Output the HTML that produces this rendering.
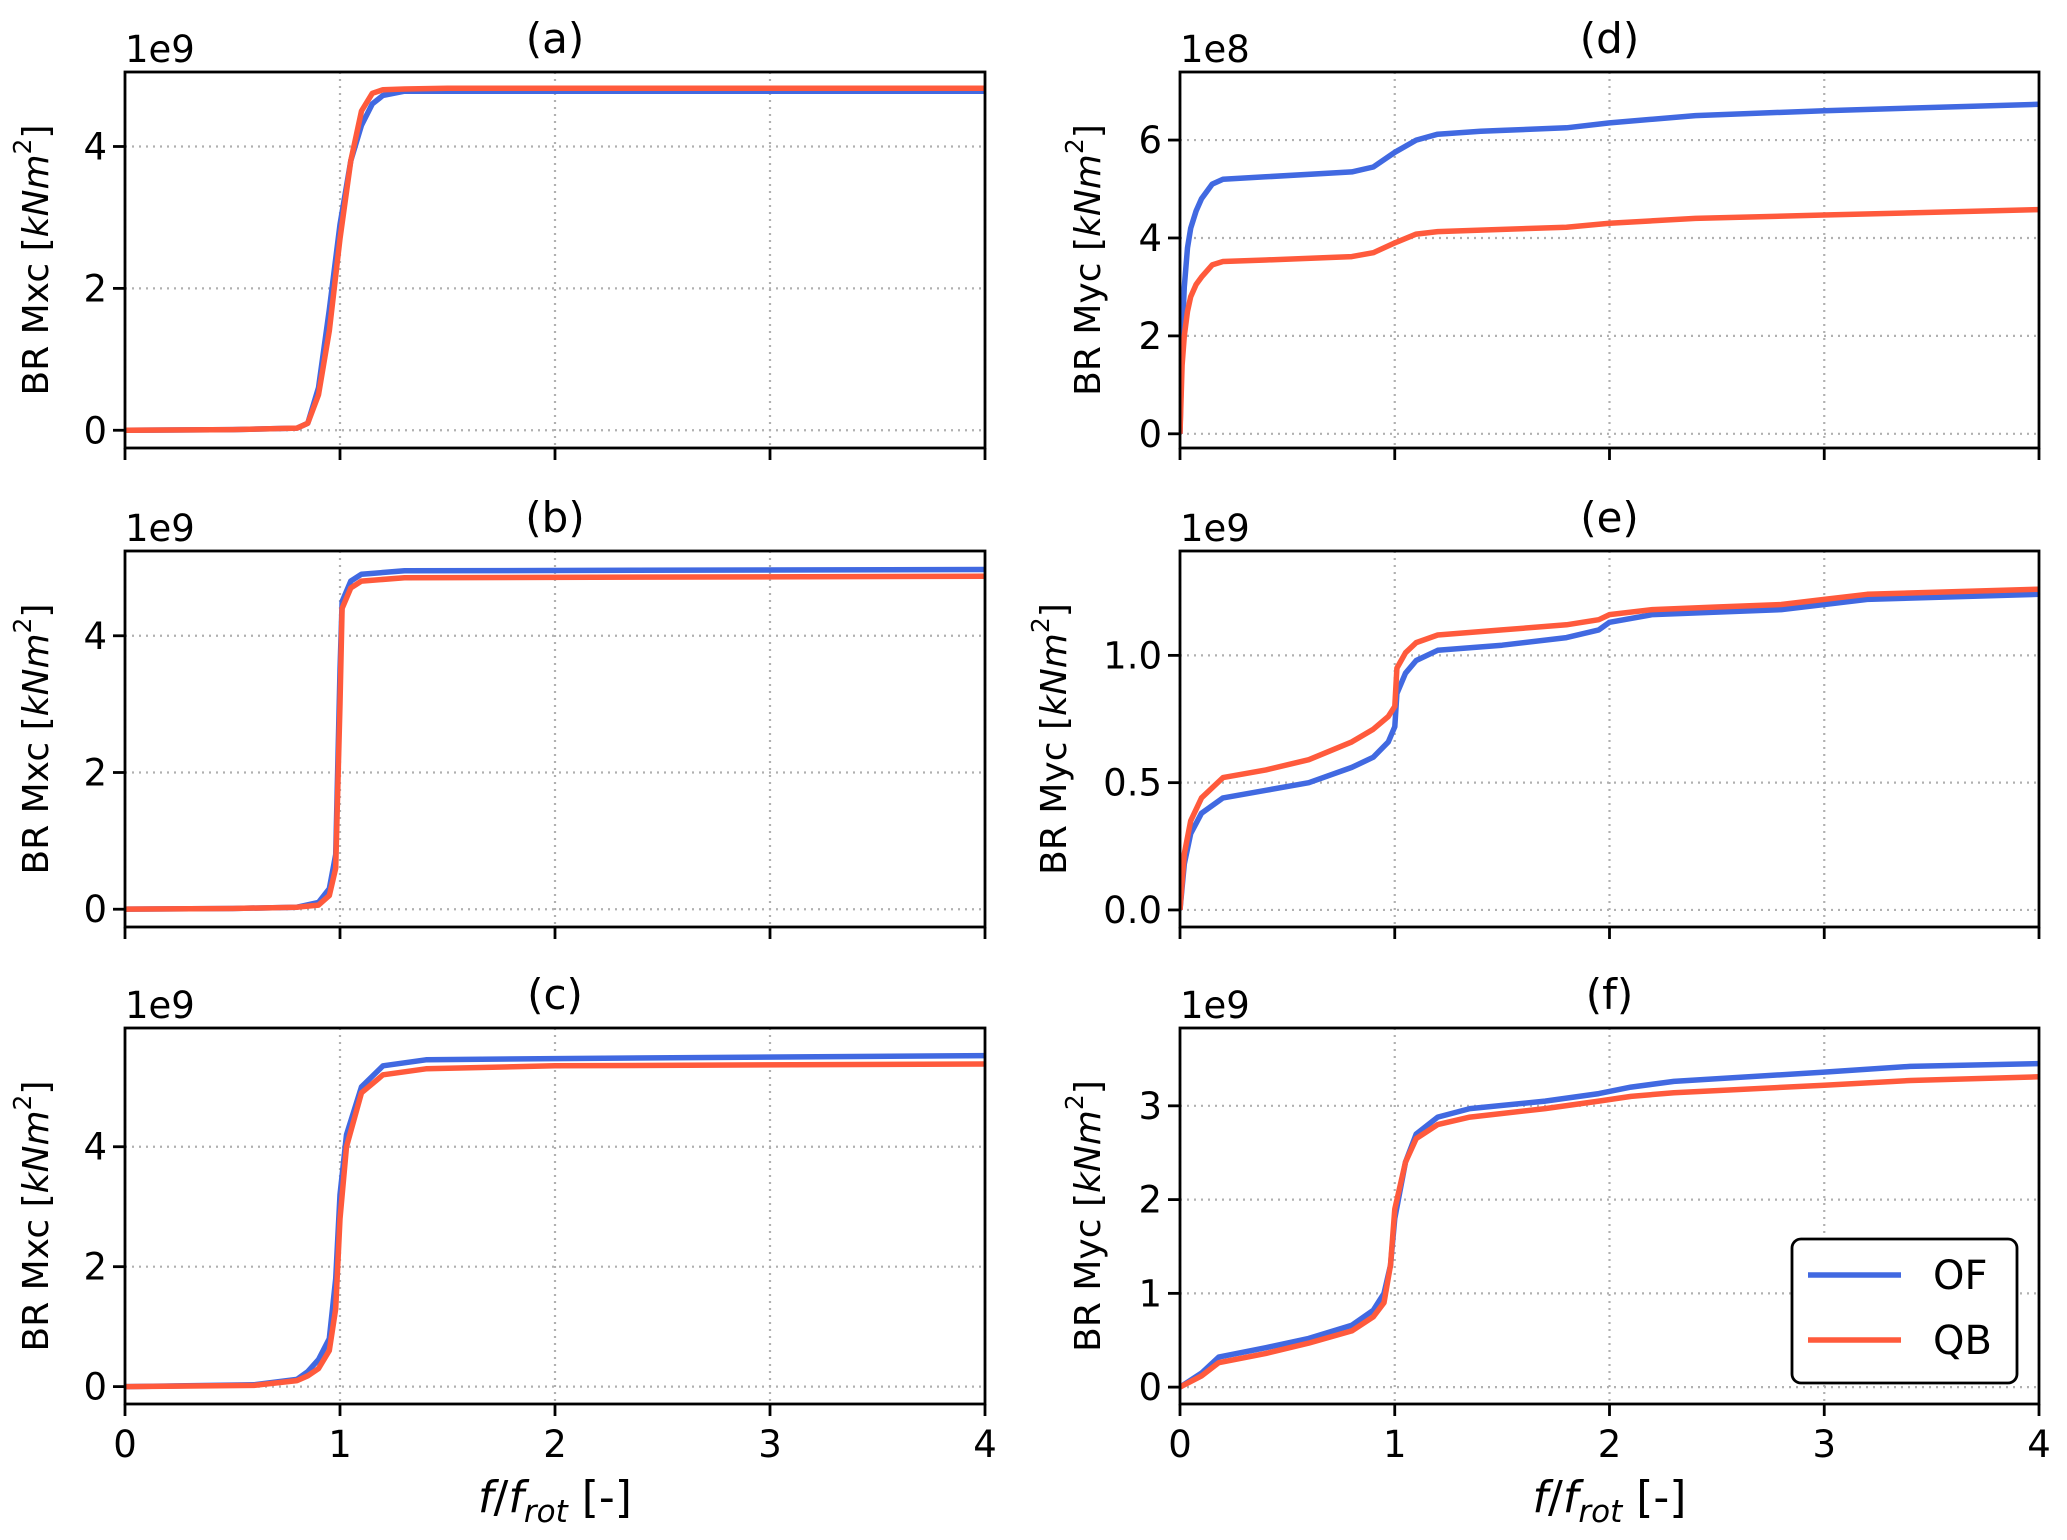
<!DOCTYPE html>
<html><head><meta charset="utf-8"><style>
body{margin:0;background:#fff}
svg{display:block;font-family:"DejaVu Sans","Liberation Sans",sans-serif}
</style></head><body>
<svg id="fig" width="2067" height="1540" viewBox="0 0 2067 1540" xmlns="http://www.w3.org/2000/svg"></svg>
<script>
// Panel (a)
const fA = [0,0.5,0.8,0.85,0.9,0.95,1.0,1.05,1.1,1.15,1.2,1.3,1.5,4];
const ofA = [0,0.01,0.03,0.1,0.6,1.7,2.9,3.8,4.3,4.6,4.72,4.78,4.78,4.78];
const qbA = [0,0.01,0.03,0.1,0.5,1.4,2.7,3.8,4.5,4.75,4.8,4.81,4.82,4.82];
// Panel (b)
const fB = [0,0.5,0.8,0.9,0.95,0.98,1.0,1.01,1.05,1.1,1.3,4];
const ofB = [0,0.01,0.03,0.1,0.3,0.8,3.5,4.5,4.8,4.9,4.95,4.97];
const qbB = [0,0.01,0.03,0.06,0.2,0.6,3.0,4.4,4.7,4.8,4.85,4.87];
// Panel (c)
const fC = [0,0.6,0.8,0.85,0.9,0.95,0.98,1.0,1.03,1.1,1.2,1.4,2,4];
const ofC = [0,0.03,0.12,0.25,0.45,0.8,1.8,3.2,4.2,5.0,5.35,5.45,5.47,5.52];
const qbC = [0,0.02,0.1,0.18,0.3,0.6,1.3,2.8,4.0,4.9,5.2,5.3,5.35,5.38];
// Panel (d) (1e8)
const fD = [0,0.01,0.02,0.035,0.05,0.075,0.1,0.15,0.2,0.4,0.8,0.9,1.0,1.1,1.2,1.4,1.8,2.0,2.4,3,4];
const ofD = [0,2.0,3.0,3.8,4.2,4.55,4.8,5.1,5.2,5.25,5.35,5.45,5.75,6.0,6.12,6.18,6.25,6.35,6.5,6.6,6.73];
const qbD = [0,1.4,2.0,2.5,2.8,3.05,3.2,3.45,3.52,3.55,3.62,3.7,3.9,4.08,4.13,4.16,4.22,4.3,4.4,4.47,4.58];
// Panel (e)
const fE = [0,0.02,0.05,0.1,0.2,0.4,0.6,0.8,0.9,0.97,1.0,1.01,1.05,1.1,1.2,1.5,1.8,1.95,2.0,2.2,2.5,2.8,3.0,3.2,4];
const ofE = [0,0.18,0.3,0.38,0.44,0.47,0.5,0.56,0.6,0.66,0.72,0.85,0.93,0.98,1.02,1.04,1.07,1.1,1.13,1.16,1.17,1.18,1.2,1.22,1.24];
const qbE = [0,0.22,0.35,0.44,0.52,0.55,0.59,0.66,0.71,0.76,0.8,0.95,1.01,1.05,1.08,1.1,1.12,1.14,1.16,1.18,1.19,1.2,1.22,1.24,1.26];
// Panel (f)
const fF = [0,0.1,0.18,0.4,0.6,0.8,0.9,0.95,0.98,1.0,1.05,1.1,1.2,1.35,1.7,1.95,2.1,2.3,3,3.4,4];
const ofF = [0,0.15,0.32,0.42,0.52,0.66,0.82,1.0,1.3,1.8,2.4,2.7,2.88,2.97,3.05,3.13,3.2,3.26,3.36,3.42,3.45];
const qbF = [0,0.12,0.26,0.36,0.47,0.6,0.75,0.9,1.3,1.9,2.4,2.65,2.8,2.88,2.97,3.05,3.1,3.14,3.22,3.27,3.31];
const xTicks = [0,1,2,3,4];
const yTicksA = ["0","2","4"], yTicksD = ["0","2","4","6"], yTicksE = ["0.0","0.5","1.0"], yTicksF = ["0","1","2","3"];

const NS = "http://www.w3.org/2000/svg";
const svg = document.getElementById('fig');
function mk(tag, attrs, parent){const e=document.createElementNS(NS,tag);for(const k in attrs)e.setAttribute(k,attrs[k]);(parent||svg).appendChild(e);return e;}
const BLUE="#4169e1", RED="#ff5a3c";
const rows=[[72,448],[551,927],[1028,1404]];
const cols=[[125,985],[1180,2039]];
const panels=[
 {id:'a',c:0,r:0,f:fA,of:ofA,qb:qbA,yl:[-0.25,5.05],ticks:yTicksA,off:"1e9",lab:"Mxc",lx:38},
 {id:'b',c:0,r:1,f:fB,of:ofB,qb:qbB,yl:[-0.26,5.24],ticks:yTicksA,off:"1e9",lab:"Mxc",lx:38},
 {id:'c',c:0,r:2,f:fC,of:ofC,qb:qbC,yl:[-0.29,5.98],ticks:yTicksA,off:"1e9",lab:"Mxc",lx:38},
 {id:'d',c:1,r:0,f:fD,of:ofD,qb:qbD,yl:[-0.29,7.39],ticks:yTicksD,off:"1e8",lab:"Myc",lx:1090},
 {id:'e',c:1,r:1,f:fE,of:ofE,qb:qbE,yl:[-0.067,1.41],ticks:yTicksE,off:"1e9",lab:"Myc",lx:1056},
 {id:'f',c:1,r:2,f:fF,of:ofF,qb:qbF,yl:[-0.18,3.83],ticks:yTicksF,off:"1e9",lab:"Myc",lx:1090}
];
const defs=mk('defs',{});
panels.forEach(p=>{
  const [x0,x1]=cols[p.c],[y0,y1]=rows[p.r];
  const X=v=>x0+(v-0)/(4-0)*(x1-x0);
  const Y=v=>y1-(v-p.yl[0])/(p.yl[1]-p.yl[0])*(y1-y0);
  const g=mk('g',{});
  
  
  const cp=mk('clipPath',{id:'cp'+p.id},defs);
  mk('rect',{x:x0,y:y0,width:x1-x0,height:y1-y0},cp);
  xTicks.forEach(t=>{const l=mk('line',{x1:X(t),x2:X(t),y1:y0,y2:y1,stroke:"#b0b0b0","stroke-width":2.2,"stroke-dasharray":"2,5"},g);
    });
  p.ticks.forEach(t=>{const v=parseFloat(t);const l=mk('line',{x1:x0,x2:x1,y1:Y(v),y2:Y(v),stroke:"#b0b0b0","stroke-width":2.2,"stroke-dasharray":"2,5"},g);
    });
  [[p.of,BLUE,'of'],[p.qb,RED,'qb']].forEach(([vals,col,nm])=>{
    const d=p.f.map((f,i)=>(i?'L':'M')+X(f).toFixed(1)+','+Y(vals[i]).toFixed(1)).join('');
    const pa=mk('path',{d:d,fill:'none',stroke:col,'stroke-width':5.5,'stroke-linejoin':'round','clip-path':'url(#cp'+p.id+')'},g);
    
    
  });
  const fr=mk('rect',{x:x0,y:y0,width:x1-x0,height:y1-y0,fill:'none',stroke:'#000','stroke-width':2.8},g);
  
  xTicks.forEach(t=>{mk('line',{x1:X(t),x2:X(t),y1:y1,y2:y1+12,stroke:'#000','stroke-width':2.8},g);
    if(p.r===2){const tx=mk('text',{x:X(t),y:y1+53,'font-size':37,'text-anchor':'middle'},g);tx.textContent=t;
      }});
  p.ticks.forEach(t=>{const v=parseFloat(t);mk('line',{x1:x0-12,x2:x0,y1:Y(v),y2:Y(v),stroke:'#000','stroke-width':2.8},g);
    const tx=mk('text',{x:x0-18,y:Y(v)+13,'font-size':37,'text-anchor':'end'},g);tx.textContent=t;
    });
  const ot=mk('text',{x:x0,y:y0-10,'font-size':37},g);ot.textContent=p.off;
  
  const tt=mk('text',{x:(x0+x1)/2,y:y0-19,'font-size':42,'text-anchor':'middle'},g);tt.textContent='('+p.id+')';
  
  const cx=p.lx, cy=(y0+y1)/2;
  const yl=mk('text',{x:cx,y:cy,'font-size':36,'text-anchor':'middle','dominant-baseline':'middle',transform:`rotate(-90 ${cx} ${cy})`},g);
  yl.innerHTML='BR '+p.lab+' [<tspan font-style="italic">kNm</tspan><tspan font-size="25" dy="-14">2</tspan><tspan dy="14">]</tspan>';
  
  if(p.r===2){const xl=mk('text',{x:(x0+x1)/2,y:1512,'font-size':44,'text-anchor':'middle'},g);
    xl.innerHTML='<tspan font-style="italic">f</tspan>/<tspan font-style="italic">f</tspan><tspan font-style="italic" font-size="31" dy="10">rot</tspan><tspan dy="-10"> [-]</tspan>';
    }
});
const lg=mk('g',{});


mk('rect',{x:1792,y:1239,width:225,height:144,rx:9,fill:'#fff',stroke:'#000','stroke-width':2.8},lg);
[[BLUE,'OF',1275],[RED,'QB',1340]].forEach(([c,t,y])=>{
  const e=mk('g',{},lg);
  
  
  mk('line',{x1:1808,x2:1901,y1:y,y2:y,stroke:c,'stroke-width':5.5},e);
  const tx=mk('text',{x:1933,y:y+14,'font-size':40},e);tx.textContent=t;
});
</script>
</body></html>
